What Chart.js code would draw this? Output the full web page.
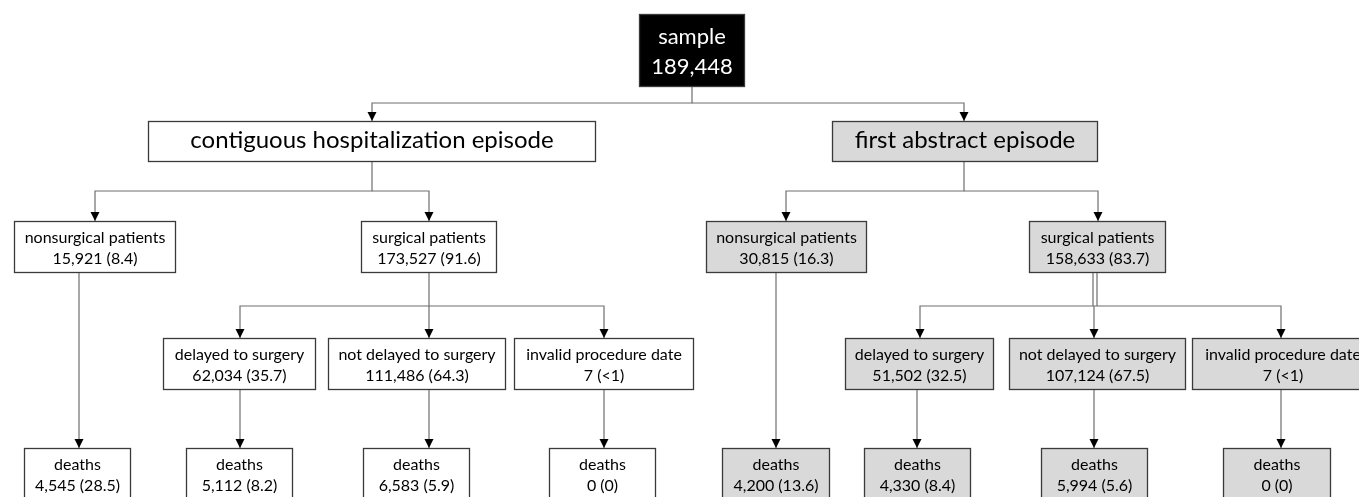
<!DOCTYPE html>
<html>
<head>
<meta charset="utf-8">
<script src="https://cdn.jsdelivr.net/npm/chart.js@4.4.1/dist/chart.umd.min.js"></script>
<style>
  html, body { margin: 0; padding: 0; background: #fff; overflow: hidden; }
</style>
</head>
<body>
<canvas id="flow" width="1359" height="497"></canvas>
<script>
// Contenido de cada caja
const titles = [
  'sample',
  'contiguous hospitalization episode', 'first abstract episode',
  'nonsurgical patients', 'surgical patients', 'nonsurgical patients', 'surgical patients',
  'delayed to surgery', 'not delayed to surgery', 'invalid procedure date',
  'delayed to surgery', 'not delayed to surgery', 'invalid procedure date',
  'deaths', 'deaths', 'deaths', 'deaths', 'deaths', 'deaths', 'deaths', 'deaths'
];
const counts = [189448, null, null, 15921, 173527, 30815, 158633,
  62034, 111486, 7, 51502, 107124, 7,
  4545, 5112, 6583, 0, 4200, 4330, 5994, 0];
const shares = [null, null, null, '8.4', '91.6', '16.3', '83.7',
  '35.7', '64.3', '<1', '32.5', '67.5', '<1',
  '28.5', '8.2', '5.9', '0', '13.6', '8.4', '5.6', '0'];
// 0 = raíz, 1 = episodio contiguo, 2 = primer resumen
const branch = [0, 1, 2, 1, 1, 2, 2, 1, 1, 1, 2, 2, 2, 1, 1, 1, 1, 2, 2, 2, 2];

// Disposición (en unidades de los ejes)
const boxX = [[639, 745], [148, 596], [832, 1098], [14, 176], [361, 497], [706, 867], [1029, 1166],
  [163, 316], [328, 506], [514, 694], [845, 994], [1009, 1186], [1192, 1374],
  [24, 131], [186, 293], [363, 470], [549, 656], [722, 830], [864, 971], [1041, 1148], [1223, 1331]];
const boxLevel = [0, 1, 1, 2, 2, 2, 2, 3, 3, 3, 3, 3, 3, 4, 4, 4, 4, 4, 4, 4, 4];
const levelSpan = [[14, 87], [121, 162], [221, 273], [338, 390], [448, 500]];

// Conectores: lista de puntos, con flecha al final salvo que arrow sea false
const links = [
  { pts: [[692, 87], [692, 103], [372, 103], [372, 121]] },
  { pts: [[692, 103], [964, 103], [964, 121]] },
  { pts: [[372, 162], [372, 191], [95, 191], [95, 221]] },
  { pts: [[372, 191], [429, 191], [429, 221]] },
  { pts: [[964, 162], [964, 191], [786, 191], [786, 221]] },
  { pts: [[964, 191], [1098, 191], [1098, 221]] },
  { pts: [[79, 273], [79, 448]] },
  { pts: [[429, 273], [429, 306], [240, 306], [240, 338]] },
  { pts: [[429, 306], [429, 338]] },
  { pts: [[429, 306], [604, 306], [604, 338]] },
  { pts: [[240, 390], [240, 448]] },
  { pts: [[429, 390], [429, 448]] },
  { pts: [[604, 390], [604, 448]] },
  { pts: [[776, 273], [776, 448]] },
  { pts: [[1093, 273], [1093, 306]], arrow: false },
  { pts: [[1097, 273], [1097, 306]], arrow: false },
  { pts: [[1095, 306], [920, 306], [920, 338]] },
  { pts: [[1094, 306], [1094, 338]] },
  { pts: [[1095, 306], [1281, 306], [1281, 338]] },
  { pts: [[917, 390], [917, 448]] },
  { pts: [[1094, 390], [1094, 448]] },
  { pts: [[1281, 390], [1281, 448]] }
];

const FONT = 'Lato, "Open Sans", sans-serif';

// Dibuja flechas y cajas sobre las escalas del gráfico
const flowPlugin = {
  id: 'flowBoxes',
  afterDatasetsDraw(chart) {
    const c = chart.ctx;
    const xs = chart.scales.x;
    const ys = chart.scales.y;
    c.save();

    // Puntas de flecha
    c.fillStyle = '#000';
    links.forEach(l => {
      if (l.arrow === false) return;
      const p = l.pts[l.pts.length - 1];
      const px = xs.getPixelForValue(p[0]);
      const py = ys.getPixelForValue(p[1]);
      c.beginPath();
      c.moveTo(px, py);
      c.lineTo(px - 4.5, py - 9);
      c.lineTo(px + 4.5, py - 9);
      c.closePath();
      c.fill();
    });

    // Cajas
    titles.forEach((t, i) => {
      const lv = boxLevel[i];
      const x0 = xs.getPixelForValue(boxX[i][0]);
      const x1 = xs.getPixelForValue(boxX[i][1]);
      const y0 = ys.getPixelForValue(levelSpan[lv][0]);
      const y1 = ys.getPixelForValue(levelSpan[lv][1]);
      c.fillStyle = branch[i] === 0 ? '#000' : (branch[i] === 2 ? '#d9d9d9' : '#fff');
      c.fillRect(x0, y0, x1 - x0, y1 - y0);
      c.strokeStyle = '#3a3a3a';
      c.lineWidth = 1.3;
      c.strokeRect(x0 + 0.5, y0 + 0.5, x1 - x0 - 1, y1 - y0 - 1);

      const cx = (x0 + x1) / 2;
      c.textAlign = 'center';
      c.textBaseline = 'middle';
      c.fillStyle = branch[i] === 0 ? '#fff' : '#000';
      if (lv === 0) {
        c.font = '22px ' + FONT;
        c.fillText(t, cx, y0 + 23);
        c.fillText(counts[i].toLocaleString('en-US'), cx, y0 + 53);
      } else if (lv === 1) {
        c.font = '24px ' + FONT;
        c.fillText(t, cx, (y0 + y1) / 2 - 1);
      } else {
        c.font = '16px ' + FONT;
        const sub = counts[i].toLocaleString('en-US') + ' (' + shares[i] + ')';
        c.fillText(t, cx, y0 + 16.5);
        c.fillText(sub, cx, y0 + 37.5);
      }
    });
    c.restore();
  }
};

const ctx = document.getElementById('flow').getContext('2d');
const flowChart = new Chart(ctx, {
  type: 'scatter',
  data: {
    datasets: links.map(l => ({
      data: l.pts.map(p => ({ x: p[0], y: p[1] })),
      showLine: true,
      borderColor: '#6f6f6f',
      borderWidth: 1.2,
      pointRadius: 0,
      pointHoverRadius: 0,
      tension: 0,
      fill: false
    }))
  },
  options: {
    responsive: false,
    animation: false,
    layout: { padding: 0 },
    scales: {
      x: { type: 'linear', min: 0, max: 1359, display: false },
      y: { type: 'linear', min: 0, max: 497, reverse: true, display: false }
    },
    plugins: {
      legend: { display: false },
      tooltip: { enabled: false }
    }
  },
  plugins: [flowPlugin]
});
</script>
</body>
</html>
